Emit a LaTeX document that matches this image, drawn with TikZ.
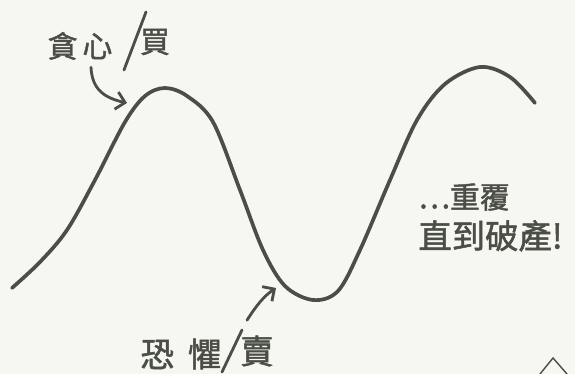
\documentclass[tikz,border=0pt]{standalone}
\usepackage{fontspec}
\newfontfamily\cjkhand[FakeBold=1.5]{Noto Sans CJK TC}
\usepackage{tikz}
\usetikzlibrary{calc,positioning,arrows.meta}
\definecolor{PaperBg}{HTML}{F6F6F2}
\definecolor{InkDark}{HTML}{4A4E45}
\tikzset{
  inkline/.style={draw=InkDark, line width=2.1pt, line cap=round},
  handlabel/.style={text=InkDark, font=\cjkhand\fontsize{17}{17}\selectfont, inner sep=0pt},
  biglabel/.style={handlabel, font=\cjkhand\fontsize{19}{19}\selectfont},
  pointer/.style={draw=InkDark, line width=1.6pt, line cap=round, -{Straight Barb[length=5pt,width=10pt]}}
}

\begin{document}
\begin{tikzpicture}[x=0.02cm, y=-0.02cm]
  % Paper
  \fill[PaperBg] (0,0) rectangle (575,374);
  \useasboundingbox (0,0) rectangle (575,374);

  % Market wave
  \draw[inkline] plot[smooth, tension=0.55] coordinates {
    (12,288) (40,262) (67,230) (95,180) (125,122) (145,96) (165,88)
    (187,96) (213,122) (240,190) (263,250) (285,286) (313,300)
    (338,291) (360,250) (390,180) (417,120) (445,84) (480,67)
    (510,77) (535,103)};
  \coordinate (topA) at (127,103);
  \coordinate (lowA) at (276,288);

  % Greed / buy
  \node[handlabel] (greed) at (80,46) {貪\,心};
  \node[handlabel] (buy) at (155,42) {買};
  \coordinate (slashA1) at (124,70);
  \coordinate (slashA2) at (146,12);
  \draw[inkline, line width=1.6pt] (slashA1) -- (slashA2);
  \draw[pointer] ($(greed.south)+(11,7)$) .. controls (92,90) and (105,98) .. (topA);

  % Fear / sell
  \node[biglabel] (fear) at (181,354) {恐\hspace{8pt}懼};
  \node[biglabel] (sell) at (257,351) {賣};
  \coordinate (slashB1) at (222,372);
  \coordinate (slashB2) at (242,330);
  \draw[inkline, line width=1.6pt] (slashB1) -- (slashB2);
  \draw[pointer] ($(sell.north)+(-10,-15)$) .. controls (256,306) and (264,296) .. (lowA);

  % Repeat
  \node[handlabel, anchor=west] (again) at (418,197) {…重覆};
  \node[biglabel, below=5pt of again.south west, anchor=north west] (broke) {直到破產!};

  % Corner mark
  \draw[InkDark, line width=0.8pt] (540,374) -- (553,358) -- (567,374);
\end{tikzpicture}
\end{document}
